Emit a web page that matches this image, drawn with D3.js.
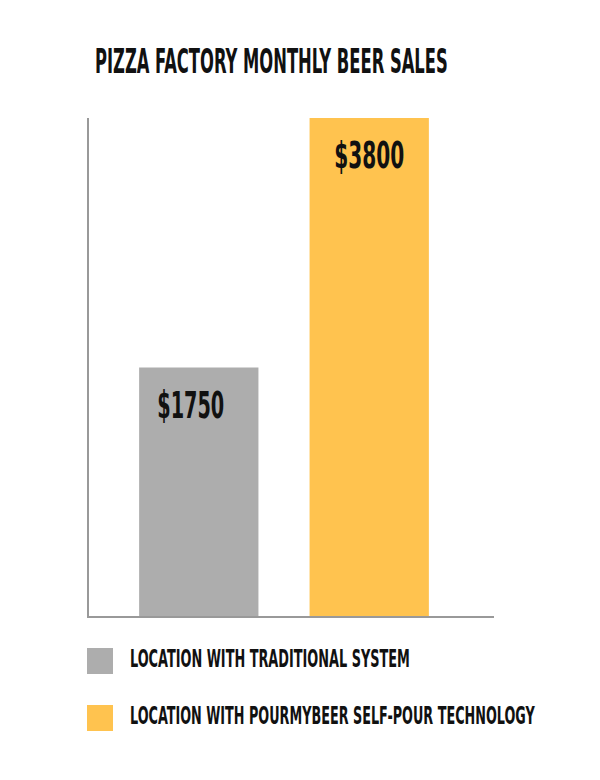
<!DOCTYPE html>
<html>
<head>
<meta charset="utf-8">
<script src="https://cdn.jsdelivr.net/npm/d3@7"></script>
<style>
  html, body { margin: 0; padding: 0; background: #fff; }
  text { font-family: "Liberation Sans Narrow", "DejaVu Sans Condensed", "Liberation Sans", sans-serif; font-weight: bold; fill: #111; }
</style>
</head>
<body>
<svg id="chart" width="600" height="780"></svg>
<script>
const title = "PIZZA FACTORY MONTHLY BEER SALES";
const categories = ["LOCATION WITH TRADITIONAL SYSTEM", "LOCATION WITH POURMYBEER SELF-POUR TECHNOLOGY"];
const values = [1750, 3800];
const valueLabels = ["$1750", "$3800"];
const colors = ["#adadad", "#ffc34f"];

const svg = d3.select("#chart");
const W = 600, H = 780;
const axisLeft = 88, axisRight = 494, plotTop = 118, plotBottom = 617;

const x = d3.scaleBand()
  .domain(categories)
  .range([axisLeft, 480])
  .padding(0.3);

const y = d3.scaleLinear()
  .domain([-300, 3800])
  .range([plotBottom, plotTop]);

function fitText(sel, tx, ty, width, anchor) {
  sel.each(function() {
    const node = this;
    const natural = node.getComputedTextLength();
    const s = width / natural;
    let left = tx;
    if (anchor === "middle") left = tx - width / 2;
    d3.select(node).attr("x", 0).attr("y", 0)
      .attr("transform", `translate(${left},${ty}) scale(${s},1)`);
  });
}

// title
const t = svg.append("text").attr("font-size", 33).text(title);
fitText(t, 95, 73, 353, "start");

// bars
svg.selectAll("rect.bar").data(values).join("rect")
  .attr("class", "bar")
  .attr("x", (d, i) => x(categories[i]))
  .attr("width", x.bandwidth())
  .attr("y", d => y(d))
  .attr("height", d => y(-300) - y(d))
  .attr("fill", (d, i) => colors[i]);

// value labels
const labelWidths = [67, 70];
svg.selectAll("text.val").data(values).join("text")
  .attr("class", "val")
  .attr("font-size", 37)
  .text((d, i) => valueLabels[i])
  .each(function(d, i) {
    const cx = x(categories[i]) + x.bandwidth() / 2 - (i === 0 ? 8 : 0);
    fitText(d3.select(this), cx, y(d) + 50, labelWidths[i], "middle");
  });

// axes lines
const axisG = svg.append("g");
axisG.append("line")
  .attr("x1", axisLeft).attr("x2", axisLeft)
  .attr("y1", y(3800)).attr("y2", y(-300) + 1)
  .attr("stroke", "#999").attr("stroke-width", 2);
axisG.append("line")
  .attr("x1", axisLeft - 1).attr("x2", axisRight)
  .attr("y1", y(-300)).attr("y2", y(-300))
  .attr("stroke", "#999").attr("stroke-width", 2);

// legend
const legendY = [648, 705];
const legendTextW = [280, 405];
const legendBase = [19, 19];
const lg = svg.selectAll("g.legend").data(categories).join("g")
  .attr("class", "legend")
  .attr("transform", (d, i) => `translate(87, ${legendY[i]})`);
lg.append("rect")
  .attr("width", 26).attr("height", 26)
  .attr("fill", (d, i) => colors[i]);
lg.append("text")
  .attr("font-size", 24)
  .text(d => d)
  .each(function(d, i) {
    fitText(d3.select(this), 43, legendBase[i], legendTextW[i], "start");
  });
</script>
</body>
</html>
